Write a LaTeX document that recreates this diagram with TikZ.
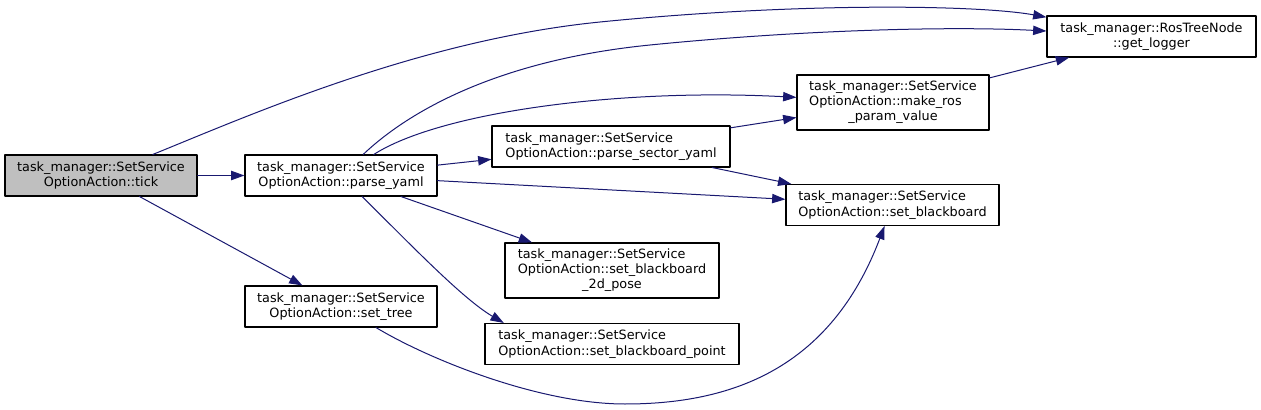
\documentclass[tikz,border=0pt]{standalone}
\usepackage{fontspec}
\setmainfont{DejaVu Sans}
\usetikzlibrary{arrows.meta}
\definecolor{edgeblue}{HTML}{191970}
\definecolor{nodegray}{HTML}{BFBFBF}
\begin{document}
\begin{tikzpicture}[line cap=round,line join=round,>={Triangle[length=10pt,width=7pt]},x=0.75pt,y=-0.75pt,
	fn/.style={draw=black,line width=0.8pt,inner sep=0pt,minimum height=30.75pt,font=\fontsize{9.6}{11.5}\selectfont},
	call/.style={->,draw=edgeblue,line width=0.75pt}]
	\useasboundingbox (0,0) rectangle (1261,410);
	% functions
	\node[fn,fill=nodegray,minimum width=144pt,align=center] (tick) at (101,175.5) {task\_manager::SetService\\OptionAction::tick};
	\node[fn,minimum width=144pt,align=center] (parseYaml) at (341,175.5) {task\_manager::SetService\\OptionAction::parse\_yaml};
	\node[fn,minimum width=144pt,align=center] (setTree) at (341,306.5) {task\_manager::SetService\\OptionAction::set\_tree};
	\node[fn,minimum width=178.5pt,align=left] (parseSector) at (611,146.5) {task\_manager::SetService\\OptionAction::parse\_sector\_yaml};
	\node[fn,minimum width=144pt,minimum height=41.25pt] (makeRos) at (893,102.5) {\begin{tabular}{@{}l@{}}task\_manager::SetService\\OptionAction::make\_ros\\\multicolumn{1}{@{}c@{}}{\_param\_value}\end{tabular}};
	\node[fn,minimum width=159.75pt,align=left] (setBoard) at (892.5,205) {task\_manager::SetService\\OptionAction::set\_blackboard};
	\node[fn,minimum width=160.5pt,minimum height=41.25pt] (setPose) at (612,270.5) {\begin{tabular}{@{}l@{}}task\_manager::SetService\\OptionAction::set\_blackboard\\\multicolumn{1}{@{}c@{}}{\_2d\_pose}\end{tabular}};
	\node[fn,minimum width=190.5pt,align=left] (setPoint) at (612,344) {task\_manager::SetService\\OptionAction::set\_blackboard\_point};
	\node[fn,minimum width=156.75pt,align=center] (getLogger) at (1151.5,36.5) {task\_manager::RosTreeNode\\::get\_logger};
	% calls
	\draw[call] (tick) -- (parseYaml);
	\draw[call] (tick) -- (setTree);
	\draw[call] (tick) .. controls (250,115) and (420,40) .. (600,22) .. controls (800,2) and (980,5) .. (getLogger);
	\draw[call] (parseYaml) .. controls (410,110) and (500,60) .. (650,45) .. controls (800,30) and (950,26) .. (getLogger);
	\draw[call] (parseYaml) .. controls (440,112) and (620,88) .. (makeRos);
	\draw[call] (parseYaml) -- (parseSector);
	\draw[call] (parseYaml) -- (setBoard);
	\draw[call] (parseYaml) -- (setPose);
	\draw[call] (parseYaml) .. controls (412,246) and (463,299) .. (setPoint.169);
	\draw[call] (parseSector) -- (makeRos);
	\draw[call] (parseSector) -- (setBoard);
	\draw[call] (makeRos) -- (getLogger);
	\draw[call] (setTree) .. controls (430,360) and (540,404) .. (625,404) .. controls (730,404) and (830,370) .. (setBoard);
\end{tikzpicture}
\end{document}
